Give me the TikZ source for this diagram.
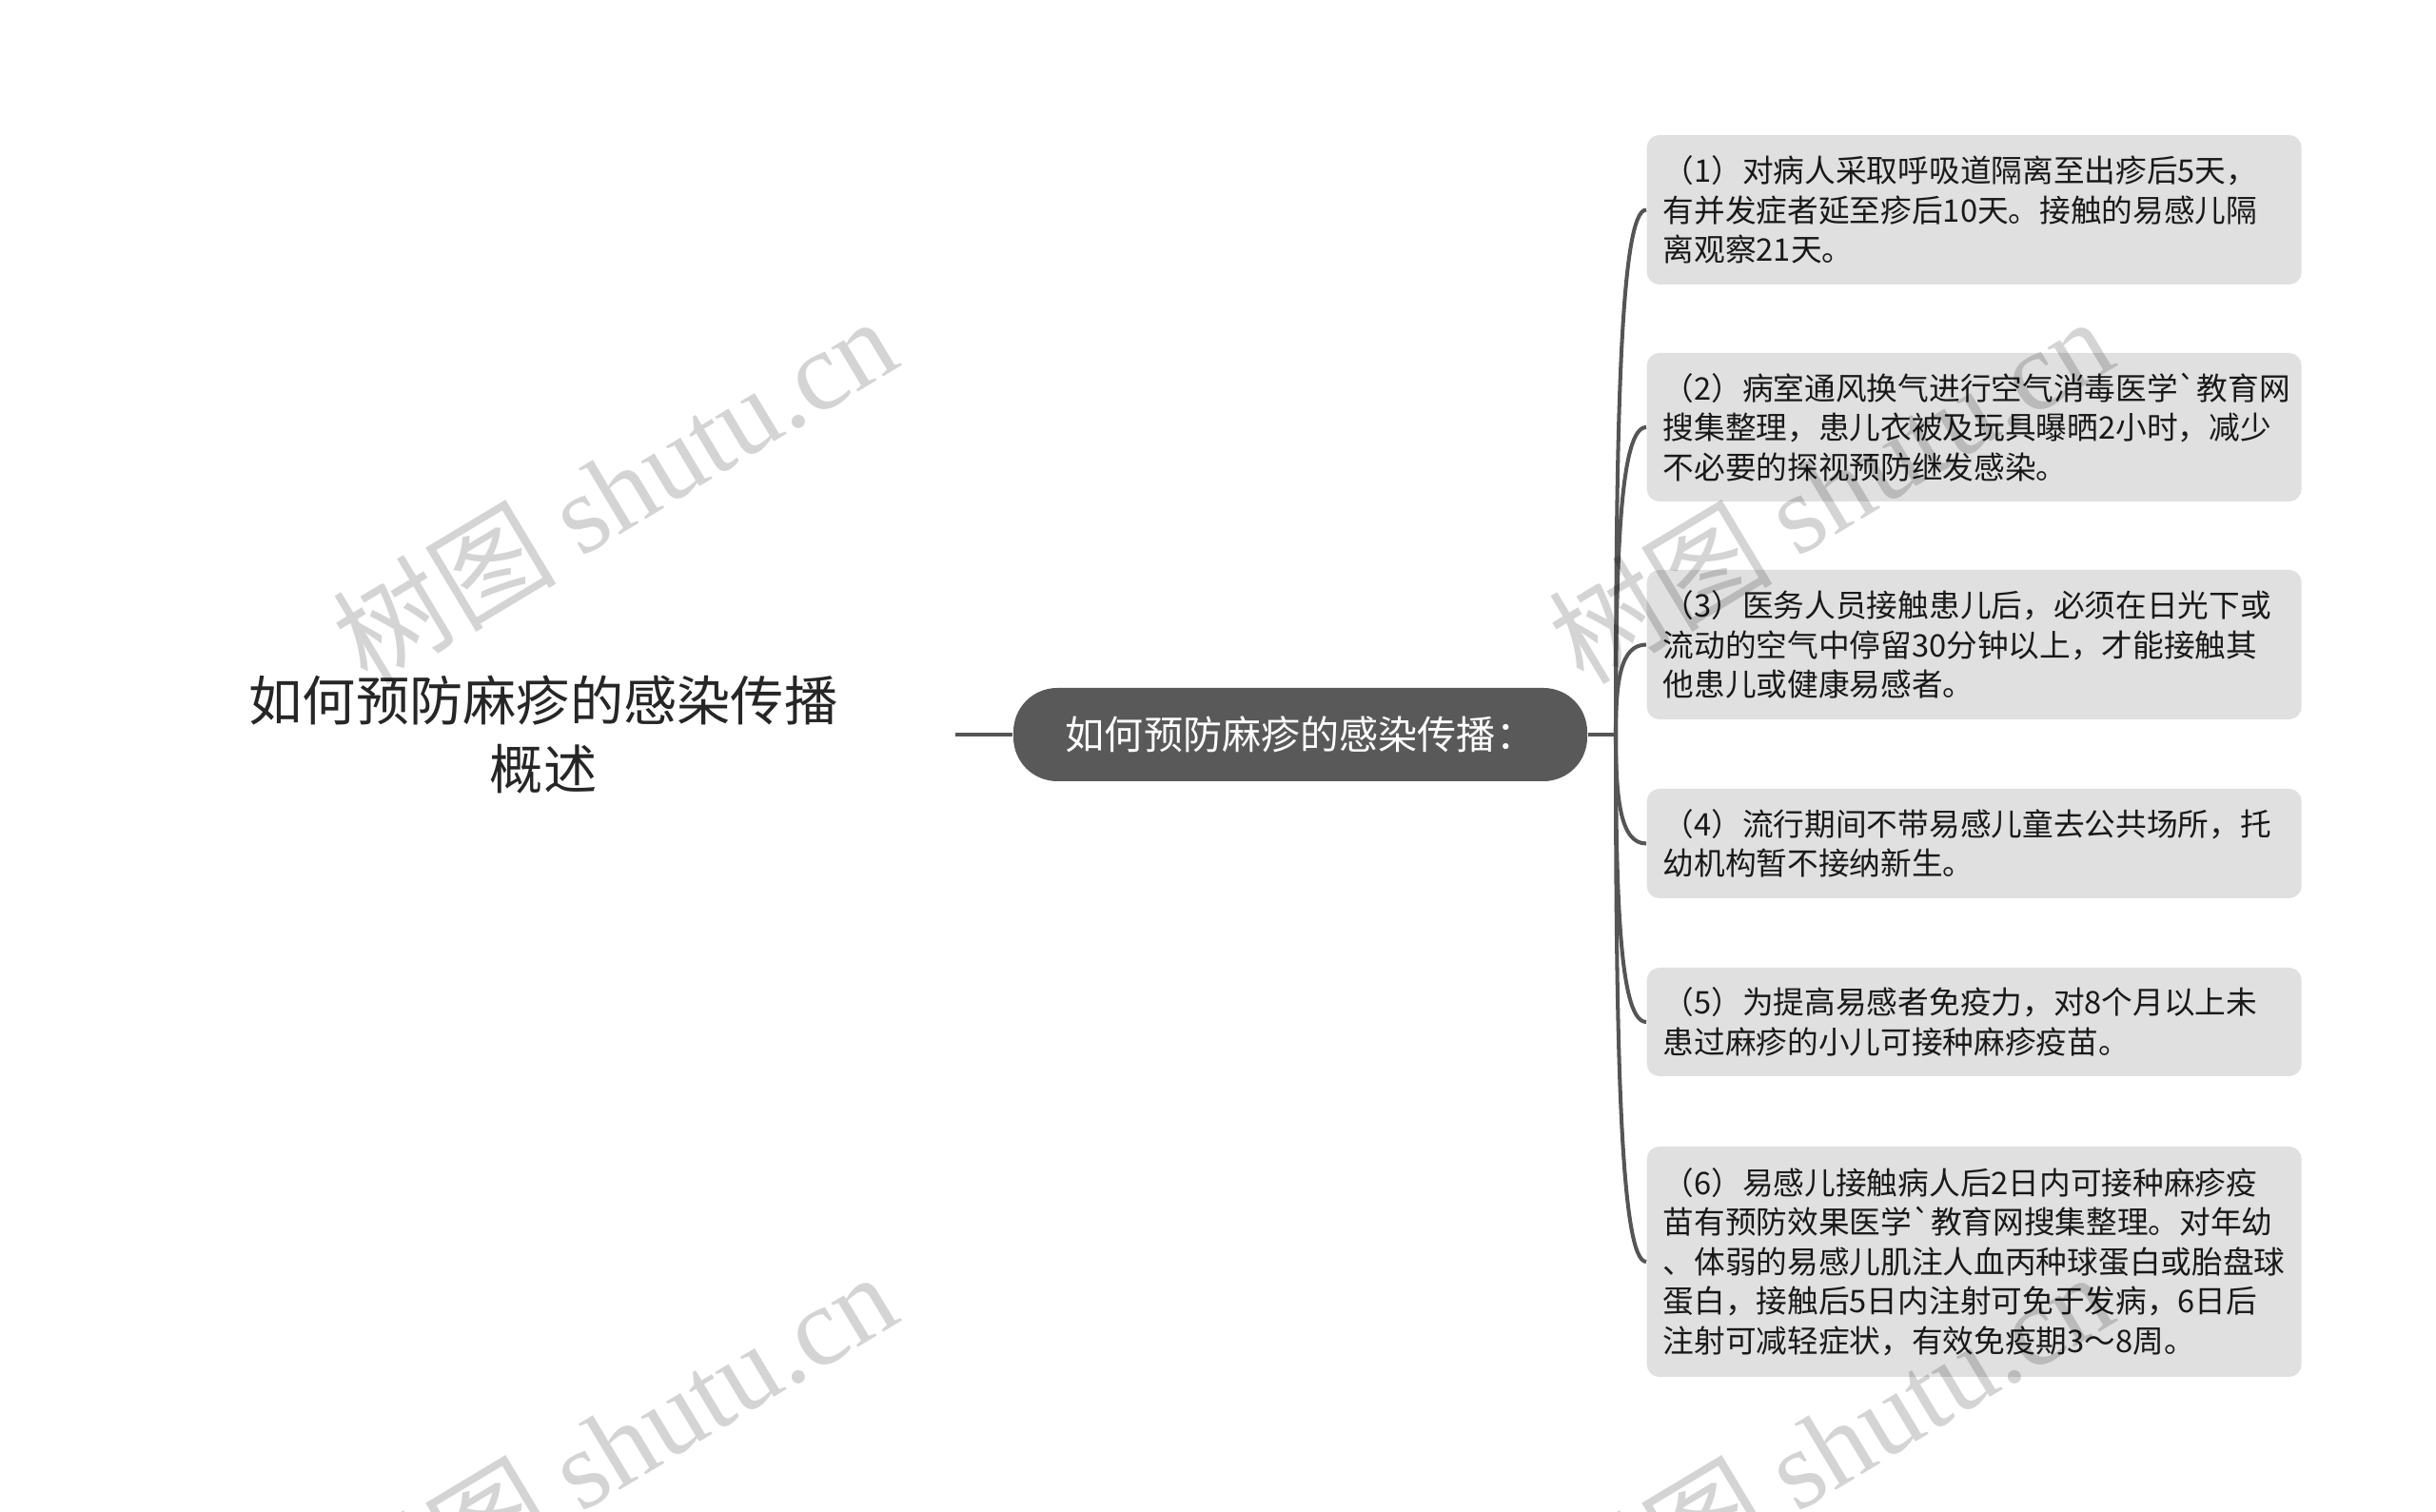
\documentclass[tikz,border=0pt]{standalone}
\usepackage{fontspec}
\setmainfont{Noto Sans CJK SC}
\newfontfamily\wmlatin{Liberation Serif}
\usetikzlibrary{calc}
\definecolor{topicgray}{HTML}{595959}
\definecolor{leafgray}{HTML}{E0E0E0}
\definecolor{linegray}{HTML}{555555}
\tikzstyle{leaf}=[fill=leafgray, rounded corners=0.13cm, text width=6.54cm, inner xsep=0.17cm, inner ysep=0pt, align=left, anchor=west, font=\fontsize{9.3pt}{11.8pt}\selectfont, text=black!90]
\tikzstyle{topicbox}=[fill=topicgray, text=white, rounded corners=0.46cm, minimum width=6.03cm, minimum height=0.98cm, inner sep=0pt, font=\fontsize{11.7pt}{14pt}\selectfont]
\tikzstyle{branch}=[draw=linegray, line width=1.15pt]
\tikzstyle{wmark}=[text=black, text opacity=0.17, rotate=31, font=\fontsize{33.5pt}{38pt}\selectfont]

\begin{document}
\begin{tikzpicture}
            \useasboundingbox (0,0) rectangle (25.6,-15.89);
            % nodos
            \node[align=center, text=black!85, font=\fontsize{16pt}{20.5pt}\selectfont] (root) at (5.71,-7.72) {如何预防麻疹的感染传播\\概述};
            \node[topicbox] (topic) at (13.665,-7.72) {如何预防麻疹的感染传播：};

            \node[leaf, minimum height=1.57cm] (l1) at (17.30,-2.205) {（1）对病人采取呼吸道隔离至出疹后5天，\\有并发症者延至疹后10天。接触的易感儿隔\\离观察21天。};
            \node[leaf, minimum height=1.56cm] (l2) at (17.30,-4.49) {（2）病室通风换气进行空气消毒医学\textasciigrave 教育网\\搜集整理，患儿衣被及玩具曝晒2小时，减少\\不必要的探视预防继发感染。};
            \node[leaf, minimum height=1.57cm] (l3) at (17.30,-6.775) {（3）医务人员接触患儿后，必须在日光下或\\流动的空气中停留30分钟以上，才能接触其\\他患儿或健康易感者。};
            \node[leaf, minimum height=1.15cm] (l4) at (17.30,-8.865) {（4）流行期间不带易感儿童去公共场所，托\\幼机构暂不接纳新生。};
            \node[leaf, minimum height=1.14cm] (l5) at (17.30,-10.74) {（5）为提高易感者免疫力，对8个月以上未\\患过麻疹的小儿可接种麻疹疫苗。};
            \node[leaf, minimum height=2.42cm] (l6) at (17.30,-13.26) {（6）易感儿接触病人后2日内可接种麻疹疫\\苗有预防效果医学\textasciigrave 教育网搜集整理。对年幼\\、体弱的易感儿肌注人血丙种球蛋白或胎盘球\\蛋白，接触后5日内注射可免于发病，6日后\\注射可减轻症状，有效免疫期3～8周。};

            % conexiones
            \coordinate (rootend) at (10.04,-7.72);
            \coordinate (hub) at (16.98,-7.72);
            \draw[branch] (rootend) -- (topic.west);
            \draw[branch] (topic.east) -- (hub);
            \foreach \i in {1,...,6}
                \draw[branch] (hub) .. controls ($(hub)!0.6!(hub |- l\i.west)$) and ($(hub |- l\i.west)+(0.05,0)$) .. (l\i.west);

            % marcas de agua
            \node[wmark] (w1) at (6.45,-5.14) {树图 {\wmlatin shutu.cn}};
            \node[wmark] (w2) at (19.23,-5.14) {树图 {\wmlatin shutu.cn}};
            \node[wmark] (w3) at (6.45,-15.18) {树图 {\wmlatin shutu.cn}};
            \node[wmark] (w4) at (19.23,-15.18) {树图 {\wmlatin shutu.cn}};
\end{tikzpicture}
\end{document}
